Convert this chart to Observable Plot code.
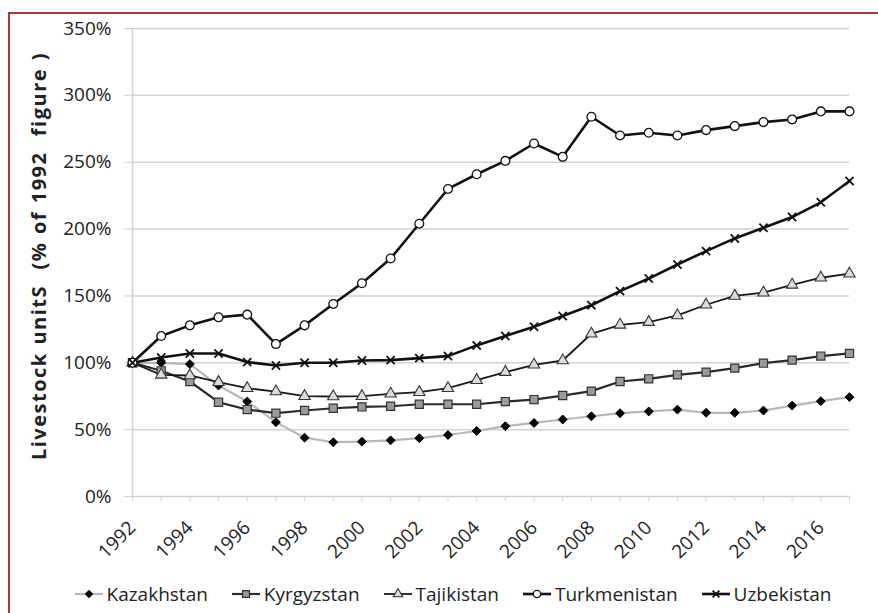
<!DOCTYPE html>
<html>
<head>
<meta charset="utf-8">
<script src="https://cdn.jsdelivr.net/npm/d3@7"></script>
<script src="https://cdn.jsdelivr.net/npm/@observablehq/plot@0.6"></script>
<style>
  html, body { margin: 0; padding: 0; background: #fff; }
  body { width: 878px; height: 613px; position: relative; overflow: hidden; font-family: "Open Sans", sans-serif; }
  #frame { position: absolute; left: 8px; top: 12px; width: 900px; height: 640px; border-top: 2px solid #a83a3a; border-left: 2px solid #a83a3a; pointer-events: none; }
  #legend { position: absolute; top: 581px; left: 0; width: 878px; display: flex; justify-content: center; align-items: center; gap: 24px; font-size: 19px; color: #222; font-family: "Open Sans", sans-serif; padding-left: 28px; box-sizing: border-box; }
  .item { display: flex; align-items: center; gap: 4px; }
  #ylabel { position: absolute; left: 38px; top: 256px; transform: translate(-50%, -50%) rotate(-90deg); white-space: pre; font-weight: bold; font-size: 20px; letter-spacing: 1.5px; word-spacing: 1px; color: #222; font-family: "Open Sans", sans-serif; }
</style>
</head>
<body>
<div id="chart"></div>
<div id="ylabel"></div>
<div id="legend"></div>
<div id="frame"></div>
<script>
const years = [1992,1993,1994,1995,1996,1997,1998,1999,2000,2001,2002,2003,2004,2005,2006,2007,2008,2009,2010,2011,2012,2013,2014,2015,2016,2017];
const labelYears = [1992,1994,1996,1998,2000,2002,2004,2006,2008,2010,2012,2014,2016];
const yTicks = [0,50,100,150,200,250,300,350];
const yTitle = "Livestock unitS  (% of 1992  figure )";

const kazakhstan   = [100,100,99,83,71,55.6,44,40.6,41,42,43.6,46,49,52.6,55,57.6,60,62.3,63.6,65,62.6,62.6,64.3,68,71.3,74.3];
const kyrgyzstan   = [100,94,86,70.5,65,62.3,64.3,66,67,67.5,69,69,69,71,72.5,75.5,78.8,86,88,91,93,96,99.7,102,105,107];
const tajikistan   = [100,91,90.5,85.5,81,78.5,75,74.8,75,76.8,78,81,87,93,98.5,101.7,121.7,128.4,130.4,135.4,143.4,150,152.4,158.3,163.6,166.6];
const turkmenistan = [100,120,128,134,136,114,128,144,159.5,178,204,230,241,251,264,254,284,270,272,270,274,277,280,282,288,288];
const uzbekistan   = [100,104,107,107,100.5,98,100,100,101.7,102,103.5,105,113,120,127,135,143,153.6,163,173.5,183.5,193,201,209,220,236];

const seriesNames = ["Kazakhstan","Kyrgyzstan","Tajikistan","Turkmenistan","Uzbekistan"];
const seriesValues = [kazakhstan, kyrgyzstan, tajikistan, turkmenistan, uzbekistan];

const styles = {
  Kazakhstan:   {line: "#b8b8b8", lw: 2.2, symbol: "diamond2", d3sym: d3.symbolDiamond2, fill: "#000", stroke: "#000", sw: 1, r: 4},
  Kyrgyzstan:   {line: "#2a2a2a", lw: 2.2, symbol: "square", d3sym: d3.symbolSquare, fill: "#9a9a9a", stroke: "#333", sw: 1.2, r: 4.6},
  Tajikistan:   {line: "#1a1a1a", lw: 1.8, symbol: "triangle", d3sym: d3.symbolTriangle, fill: "#dcdcdc", stroke: "#333", sw: 1.1, r: 4.2},
  Turkmenistan: {line: "#111", lw: 2.6, symbol: "circle", d3sym: d3.symbolCircle, fill: "#fff", stroke: "#111", sw: 1.3, r: 4.4},
  Uzbekistan:   {line: "#111", lw: 2.6, symbol: "times", d3sym: d3.symbolTimes, fill: "none", stroke: "#111", sw: 1.8, r: 3.8}
};

const data = seriesNames.flatMap((name, i) => years.map((year, j) => ({country: name, year, value: seriesValues[i][j]})));

const grid = "#d2d2d2";
const marks = [
  Plot.gridY(yTicks, {stroke: grid, strokeOpacity: 1, strokeWidth: 1.5}),
  Plot.axisY(yTicks, {tickSize: 8, tickPadding: 13, tickFormat: d => d + "%", stroke: grid, strokeOpacity: 1, label: null, fontSize: 19, fill: "#222"}),
  Plot.ruleX([1992], {stroke: grid, strokeWidth: 1.5}),
  Plot.axisX(years, {tickSize: 5, tickFormat: () => "", stroke: grid, strokeOpacity: 1, label: null}),
  Plot.axisX(labelYears, {tickSize: 0, tickPadding: 31, dy: -3, tickRotate: -45, tickFormat: d => String(d), label: null, fontSize: 19, fill: "#222"})
];
for (const name of seriesNames) {
  const s = styles[name];
  const d = data.filter(r => r.country === name);
  marks.push(Plot.line(d, {x: "year", y: "value", stroke: s.line, strokeWidth: s.lw}));
}
for (const name of seriesNames) {
  const s = styles[name];
  const d = data.filter(r => r.country === name);
  marks.push(Plot.dot(d, {x: "year", y: "value", symbol: () => s.symbol, r: s.r, fill: s.fill, stroke: s.stroke, strokeWidth: s.sw}));
}

const chart = Plot.plot({
  width: 878,
  height: 576,
  marginLeft: 132,
  marginRight: 29,
  marginTop: 28,
  marginBottom: 80,
  x: {type: "linear", domain: [1992, 2017]},
  y: {domain: [0, 350]},
  symbol: {type: "identity"},
  style: {fontFamily: "Open Sans, sans-serif", fontSize: "19px", color: "#222", background: "transparent"},
  marks
});
document.getElementById("chart").appendChild(chart);

document.getElementById("ylabel").textContent = yTitle;

// legend
const legend = d3.select("#legend");
seriesNames.forEach(name => {
  const s = styles[name];
  const item = legend.append("div").attr("class", "item");
  const svg = item.append("svg").attr("width", 28).attr("height", 14);
  svg.append("line").attr("x1", 0).attr("x2", 28).attr("y1", 7).attr("y2", 7).attr("stroke", s.line).attr("stroke-width", s.lw);
  svg.append("path").attr("transform", "translate(14,7)").attr("d", d3.symbol(s.d3sym, Math.PI * s.r * s.r * 0.7)())
    .attr("fill", s.fill).attr("stroke", s.stroke).attr("stroke-width", s.sw);
  item.append("span").text(name);
});
</script>
</body>
</html>
